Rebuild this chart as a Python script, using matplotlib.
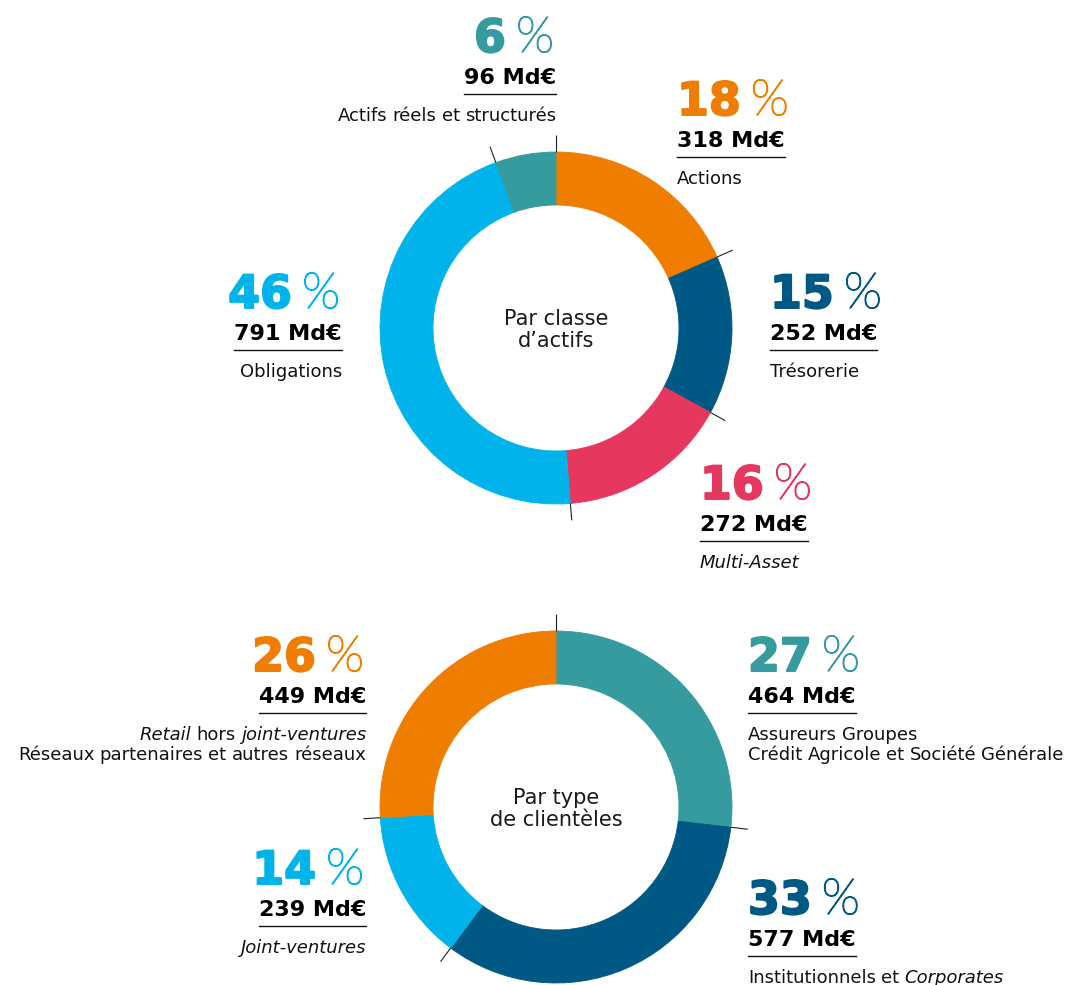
import numpy as np
import matplotlib
matplotlib.use("Agg")
import matplotlib.pyplot as plt
import matplotlib.patheffects as pe

# ── Data ──────────────────────────────────────────────────────────────────────
asset_labels = ["Actions", "Trésorerie", "*Multi-Asset*", "Obligations",
                "Actifs réels et structurés"]
asset_pct = [18, 15, 16, 46, 6]
asset_md = [318, 252, 272, 791, 96]

client_labels = ["Assureurs Groupes|Crédit Agricole et Société Générale",
                 "Institutionnels et *Corporates*",
                 "*Joint-ventures*",
                 "*Retail* hors *joint-ventures*|Réseaux partenaires et autres réseaux"]
client_pct = [27, 33, 14, 26]
client_md = [464, 577, 239, 449]

ORANGE = "#EF7D00"
DARK = "#005884"
PINK = "#E6375F"
LIGHT = "#00B4EB"
TEAL = "#359B9F"
asset_colors = [ORANGE, DARK, PINK, LIGHT, TEAL]
client_colors = [TEAL, DARK, LIGHT, ORANGE]

FONT = "DejaVu Sans"
THIN = "Lato"
W, H = 1083, 985
R, RING = 176, 53

fig = plt.figure(figsize=(W / 100, H / 100), dpi=100)
ax = fig.add_axes([0, 0, 1, 1])


def set_frame():
    ax.set_xlim(0, W)
    ax.set_ylim(H, 0)
    ax.set_aspect("auto")
    ax.axis("off")


def donut(center, values, colors, title):
    wedges, _ = ax.pie(values, colors=colors, radius=R, center=center,
                       startangle=-90, counterclock=True,
                       wedgeprops=dict(width=RING, linewidth=0))
    set_frame()
    for w in wedges:
        w.set_edgecolor(w.get_facecolor())
        w.set_linewidth(0.6)
    # small tick marks on the wedge boundaries
    cum = np.concatenate([[0], np.cumsum(values)[:-1]]) / np.sum(values)
    for f in cum:
        a = np.deg2rad(-90 + 360 * f)
        ax.plot([center[0] + R * np.cos(a), center[0] + (R + 17) * np.cos(a)],
                [center[1] + R * np.sin(a), center[1] + (R + 17) * np.sin(a)],
                color="#222222", lw=0.8, solid_capstyle="butt", zorder=5)
    ax.text(center[0], center[1] + 2, title, ha="center", va="center",
            fontsize=15, family=FONT, color="#1a1a1a", linespacing=1.15)


def text_line(x, y, line, ha, size=13):
    # "*word*" parts are drawn in italic, chained side by side
    parts = []
    for i, chunk in enumerate(line.split("*")):
        for word in chunk.split():
            parts.append((word, "italic" if i % 2 else "normal"))
    kw = dict(fontsize=size, family=FONT, color="#111111", va="baseline")
    gap = 5.2
    if ha == "left":
        t = ax.text(x, y, parts[0][0], ha="left", style=parts[0][1], **kw)
        for s, st in parts[1:]:
            t = ax.annotate(s, xy=(1, y), xycoords=(t, "data"), xytext=(gap, 0),
                            textcoords="offset pixels", ha="left", style=st, **kw)
    else:
        t = ax.text(x, y, parts[-1][0], ha="right", style=parts[-1][1], **kw)
        for s, st in parts[-2::-1]:
            t = ax.annotate(s, xy=(0, y), xycoords=(t, "data"), xytext=(-gap, 0),
                            textcoords="offset pixels", ha="right", style=st, **kw)


def block(x, y, pct, md, label, color, ha):
    # y is the baseline of the "Md€" line
    yp = y - 32
    dkw = dict(family=FONT, va="baseline", color=color, fontsize=33,
               fontweight="bold",
               path_effects=[pe.withStroke(linewidth=1.4, foreground=color)])
    pkw = dict(family=THIN, va="baseline", color=color, fontsize=36,
               fontweight="light",
               path_effects=[pe.withStroke(linewidth=1.0, foreground=color)])
    if ha == "left":
        d = ax.text(x, yp, f"{pct}", ha="left", **dkw)
        ax.annotate("%", xy=(1, yp), xycoords=(d, "data"), xytext=(10, 0),
                    textcoords="offset pixels", ha="left", **pkw)
    else:
        p = ax.text(x - 2, yp, "%", ha="right", **pkw)
        ax.annotate(f"{pct}", xy=(0, yp), xycoords=(p, "data"),
                    xytext=(-10, 0), textcoords="offset pixels", ha="right",
                    **dkw)
    n = ax.text(x, y, f"{md} Md€", ha=ha, fontsize=16, fontweight="bold",
                family=FONT, va="baseline", color="#000000")
    bb = n.get_window_extent(fig.canvas.get_renderer())
    ax.plot([bb.x0, bb.x1], [y + 10, y + 10], color="#111111", lw=1.0)
    for k, line in enumerate(label.split("|")):
        text_line(x, y + 37 + 20 * k, line, ha)


# ── Par classe d'actifs ───────────────────────────────────────────────────────
donut((556, 328), asset_md, asset_colors, "Par classe\nd’actifs")
asset_pos = [(677, 147, "left"), (770, 340, "left"), (700, 531, "left"),
             (342, 340, "right"), (556, 84, "right")]
for (x, y, ha), p, m, lab, c in zip(asset_pos, asset_pct, asset_md,
                                     asset_labels, asset_colors):
    block(x, y, p, m, lab, c, ha)

# ── Par type de clientèles ────────────────────────────────────────────────────
donut((556, 807), client_md, client_colors, "Par type\nde clientèles")
client_pos = [(748, 703, "left"), (748, 946, "left"), (366, 916, "right"),
              (366, 703, "right")]
for (x, y, ha), p, m, lab, c in zip(client_pos, client_pct, client_md,
                                     client_labels, client_colors):
    block(x, y, p, m, lab, c, ha)

set_frame()
fig.savefig("out.png", dpi=100)
